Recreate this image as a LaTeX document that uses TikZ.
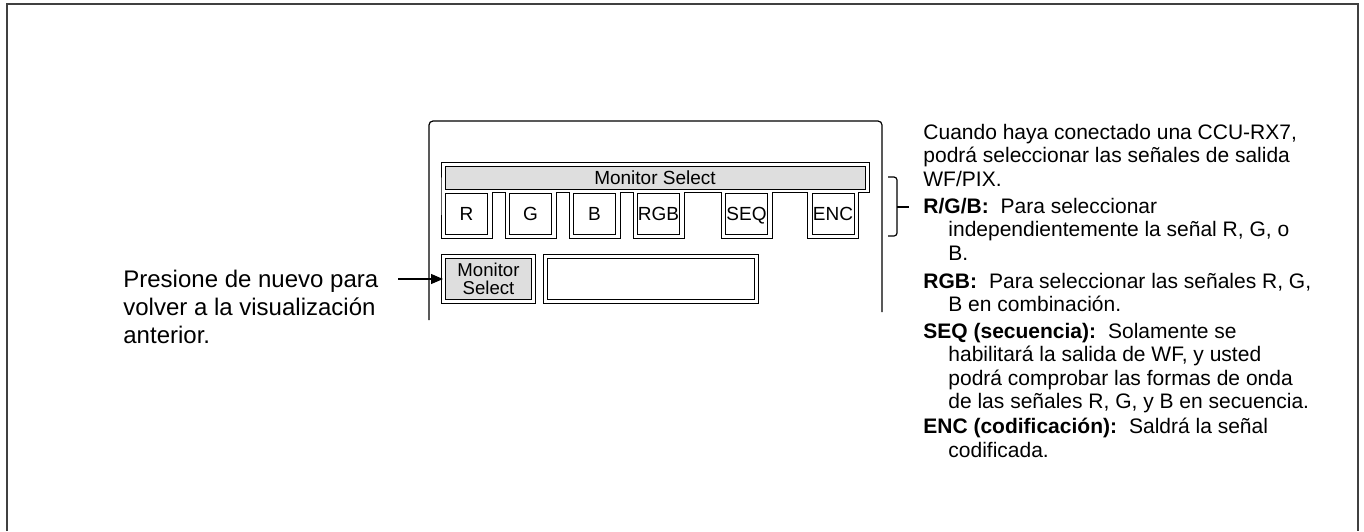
\documentclass[tikz,border=0pt]{standalone}
\usepackage{fontspec}
\setmainfont{Liberation Sans}
\usetikzlibrary{positioning}
\usetikzlibrary{arrows.meta}
\newcommand{\descind}{\hspace*{12.5pt}}
\tikzset{
    mybar/.style = {rectangle, draw=black, line width=0.5pt, fill=black!13, inner sep=0pt, minimum width=210pt, minimum height=11.5pt, text height=6.8pt, text depth=0pt, font=\fontsize{9.5}{10}\selectfont},
    mybtn/.style = {rectangle, draw=black, line width=0.5pt, fill=white, inner sep=0pt, minimum width=21pt, minimum height=20.5pt, text height=6.8pt, text depth=0pt, font=\fontsize{9.5}{10}\selectfont},
    mykey/.style = {rectangle, draw=black, line width=0.5pt, double, double distance=1.5pt, fill=black!13, inner sep=0pt, minimum width=45pt, minimum height=22.5pt, align=center, font=\fontsize{9.3}{9}\selectfont},
    mydisp/.style = {rectangle, draw=black, line width=0.5pt, double, double distance=1.5pt, fill=white, inner sep=0pt, minimum width=105.5pt, minimum height=22.5pt},
    mytext/.style = {anchor=north west, inner sep=0pt, align=left, font=\fontsize{12}{14}\selectfont},
    mydesc/.style = {anchor=north west, inner sep=0pt, align=left, font=\fontsize{10.5}{11.65}\selectfont},
    edgea/.style = {-{Triangle[length=6pt,width=5pt]}, line width=0.6pt, black},
    edgef/.style = {-, line width=1pt, black!75}, % outer frame
    edgep/.style = {-, line width=0.6pt, black, rounded corners=2pt}, % panel
    edgeb/.style = {-, line width=0.6pt, black, rounded corners=1.5pt} % bracket
}
\begin{document}
\begin{tikzpicture}[x=0.5pt, y=-0.5pt]
  \useasboundingbox (0,0) rectangle (1364,531);
  \draw[edgef] (7,531) -- (7,4) -- (1358,4) -- (1358,531);
  \draw[edgep] (429,320) -- (429,121) -- (882,121) -- (882,312);
  % bar and button row
  \draw[line width=0.5pt, fill=white] (869,192) -- (869,162) -- (441,162)
    \foreach \c in {466.5,530.5,594.5,658.5,746.5,833}
      { -- ({\c-25.5},192) -- ({\c-25.5},238) -- ({\c+25.5},238) -- ({\c+25.5},192) } -- cycle;
  \node[mybar] (bar) at (655,177.5) {Monitor Select};
  \foreach \c/\t in {466.5/R,530.5/G,594.5/B,658.5/RGB,746.5/SEQ,833/ENC}
    \node[mybtn] (b\t) at (\c,213.5) {\t};
  \node[mykey] (msel) at (488.5,279) {Monitor\\Select};
  \node[mydisp, right=5.5pt of msel] (disp) {};
  % left note
  \coordinate (tail) at (398,279);
  \draw[edgea] (tail) -- (msel);
  \node[mytext] (hint) at (123,270) {Presione de nuevo para\\volver a la visualización\\anterior.};
  % bracket
  \draw[edgeb] (888,177) -- (897,177) -- (897,236) -- (888,236);
  \draw[edgeb] (897,207) -- (909,207);
  % right notes
  \node[mydesc] (intro) at (923,124) {Cuando haya conectado una CCU-RX7,\\podrá seleccionar las señales de salida\\WF/PIX.};
  \node[mydesc] (drgbsep) at (923,198) {\textbf{R/G/B:}\hspace{6pt}Para seleccionar\\\descind independientemente la señal R, G, o\\\descind B.};
  \node[mydesc] (drgb) at (923,273) {\textbf{RGB:}\hspace{6pt}Para seleccionar las señales R, G,\\\descind B en combinación.};
  \node[mydesc] (dseq) at (923,323) {\textbf{SEQ (secuencia):}\hspace{6pt}Solamente se\\\descind habilitará la salida de WF, y usted\\\descind podrá comprobar las formas de onda\\\descind de las señales R, G, y B en secuencia.};
  \node[mydesc] (denc) at (923,418) {\textbf{ENC (codificación):}\hspace{6pt}Saldrá la señal\\\descind codificada.};
\end{tikzpicture}
\end{document}
